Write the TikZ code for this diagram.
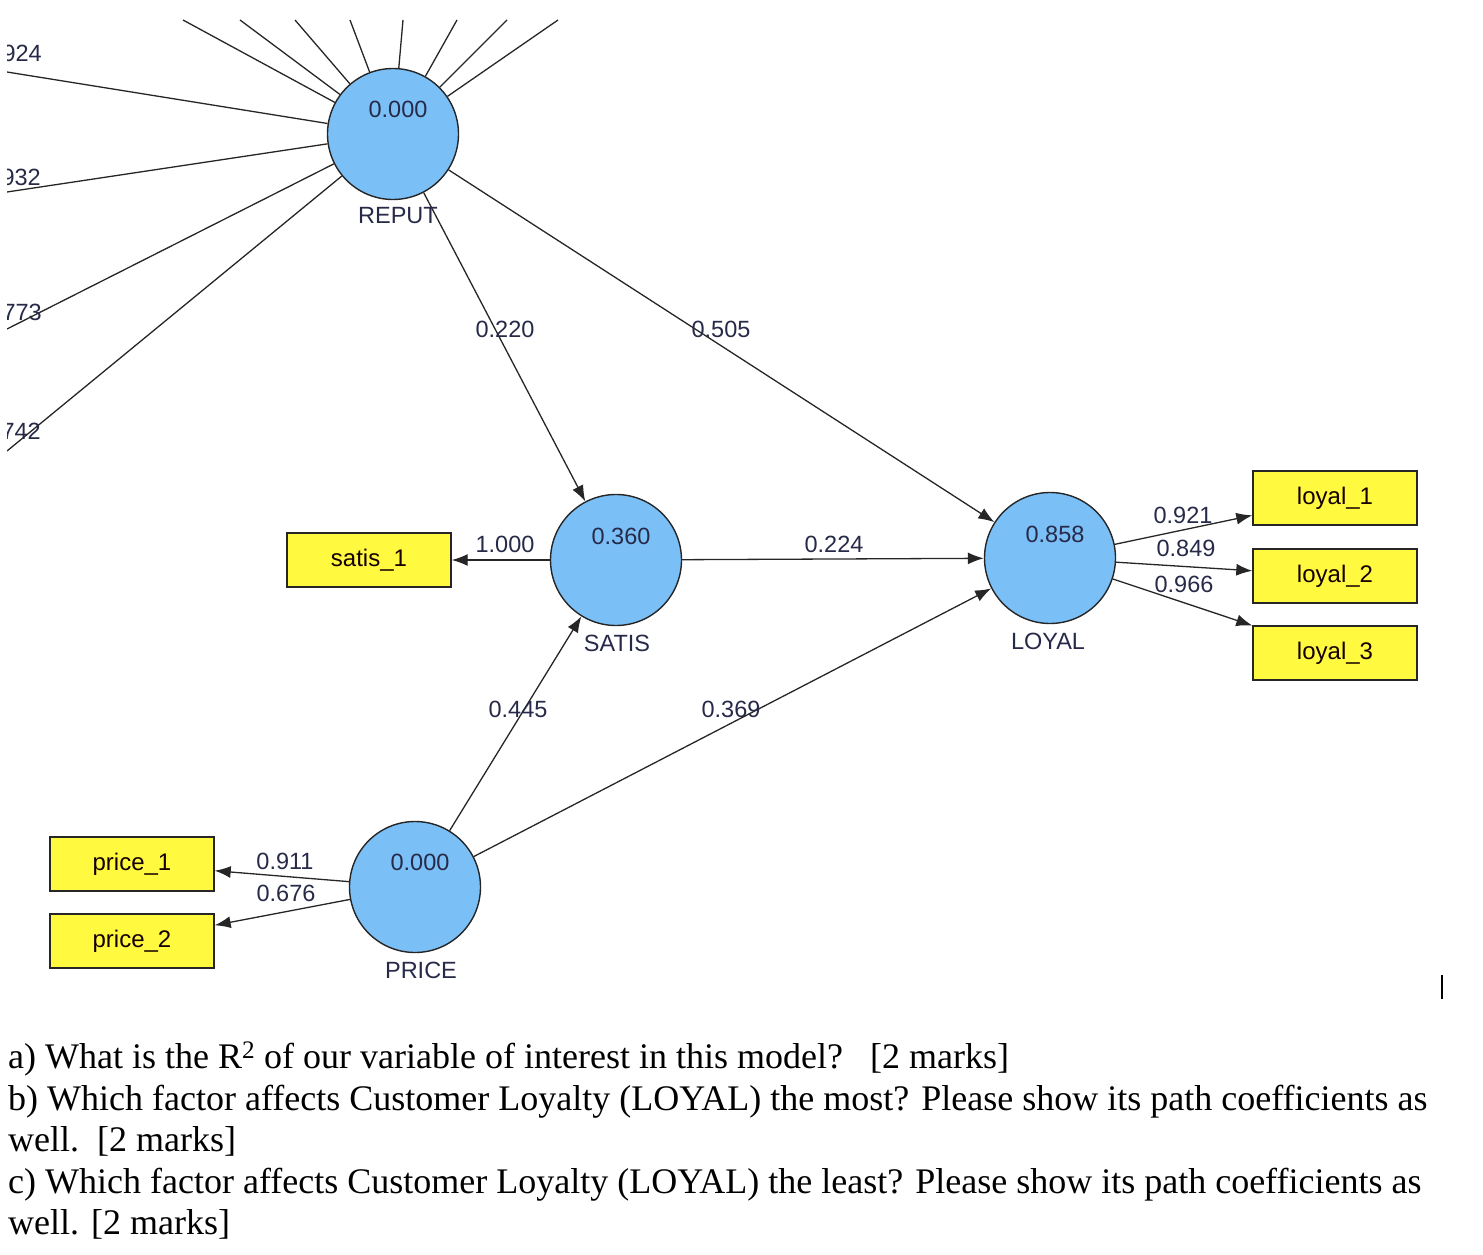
\documentclass[tikz,border=0pt]{standalone}
\usepackage{fontspec}
\setmainfont{Liberation Serif}
\newfontfamily\diagfont{Liberation Sans}
\usetikzlibrary{arrows.meta}
\definecolor{lvfill}{HTML}{7BBFF7}
\definecolor{mvfill}{HTML}{FFF940}
\definecolor{lbltext}{HTML}{262A48}
\tikzset{
  latent/.style={circle, draw=black!85, line width=1.4pt, fill=lvfill, minimum size=131pt, inner sep=0pt},
  manifest/.style={rectangle, draw=black!85, line width=1.4pt, fill=mvfill, minimum width=164pt, minimum height=54pt, inner sep=0pt, font=\diagfont\fontsize{24}{28}\selectfont, text=black!80!red!40!black},
  lbl/.style={font=\diagfont\fontsize{23.5}{28}\selectfont, text=lbltext, inner sep=0pt},
  conn/.style={line width=1.3pt, draw=black!85},
  arr/.style={conn, -{Latex[length=16pt,width=12pt]}},
  qline/.style={anchor=base west, inner sep=0pt, font=\fontsize{36}{42}\selectfont}
}
\begin{document}
\begin{tikzpicture}[x=1pt,y=-1pt]
\useasboundingbox (0,0) rectangle (1483,1255);
\begin{scope}
\clip (7,20) rectangle (1483,1010);
% latent variables
\node[latent] (REPUT) at (393,134) {};
\node[latent] (SATIS) at (616,560) {};
\node[latent] (LOYAL) at (1050,558) {};
\node[latent] (PRICE) at (415,887) {};
% manifest variables
\node[manifest] (satis1) at (369,560) {satis\_1};
\node[manifest] (loyal1) at (1335,498) {loyal\_1};
\node[manifest] (loyal2) at (1335,576) {loyal\_2};
\node[manifest] (loyal3) at (1335,653) {loyal\_3};
\node[manifest] (price1) at (132,864) {price\_1};
\node[manifest] (price2) at (132,941) {price\_2};
% indicator lines of REPUT leaving the view
\coordinate (t1) at (183,20);
\coordinate (t2) at (240,20);
\coordinate (t3) at (295,20);
\coordinate (t4) at (350,20);
\coordinate (t5) at (403,20);
\coordinate (t6) at (457,20);
\coordinate (t7) at (507,20);
\coordinate (t8) at (558,20);
\coordinate (s1) at (7,72);
\coordinate (s2) at (7,192);
\coordinate (s3) at (7,329);
\coordinate (s4) at (7,451);
\foreach \c in {t1,t2,t3,t4,t5,t6,t7,t8,s1,s2,s3,s4} \draw[conn] (REPUT) -- (\c);
\node[lbl, anchor=east] (w1) at (42,53) {0.924};
\node[lbl, anchor=east] (w2) at (41,177) {0.932};
\node[lbl, anchor=east] (w3) at (42,312) {0.773};
\node[lbl, anchor=east] (w4) at (41,431) {0.742};
% structural paths
\draw[arr] (REPUT) -- (SATIS);
\draw[arr] (REPUT) -- (LOYAL);
\draw[arr] (SATIS) -- (LOYAL);
\draw[arr] (PRICE) -- (SATIS);
\draw[arr] (PRICE) -- (LOYAL);
% outer model
\draw[arr] (SATIS) -- (satis1);
\draw[arr] (LOYAL) -- (loyal1);
\draw[arr] (LOYAL) -- (loyal2);
\draw[arr] (LOYAL) -- (loyal3);
\draw[arr] (PRICE) -- (price1);
\draw[arr] (PRICE) -- (price2);
% values inside latent variables
\node[lbl] (vREPUT) at (398,109) {0.000};
\node[lbl] (vSATIS) at (621,536) {0.360};
\node[lbl] (vLOYAL) at (1055,534) {0.858};
\node[lbl] (vPRICE) at (420,862) {0.000};
% names of latent variables
\node[lbl] (nREPUT) at (398,216) {REPUT};
\node[lbl] (nSATIS) at (617,643) {SATIS};
\node[lbl] (nLOYAL) at (1048,641) {LOYAL};
\node[lbl] (nPRICE) at (421,970) {PRICE};
% path coefficients
\node[lbl] (c1) at (505,329) {0.220};
\node[lbl] (c2) at (721,329) {0.505};
\node[lbl] (c3) at (834,544) {0.224};
\node[lbl] (c4) at (505,544) {1.000};
\node[lbl] (c5) at (518,709) {0.445};
\node[lbl] (c6) at (731,709) {0.369};
\node[lbl] (c7) at (285,861) {0.911};
\node[lbl] (c8) at (286,893) {0.676};
\node[lbl] (c9) at (1183,515) {0.921};
\node[lbl] (c10) at (1186,548) {0.849};
\node[lbl] (c11) at (1184,584) {0.966};
\end{scope}
% text cursor
\draw[line width=2pt] (1442,975) -- (1442,999);
% questions
\node[qline] (q1) at (8,1068) {a) What is the R\textsuperscript{2} of our variable of interest in this model?\ \ \ [2 marks]};
\node[qline] (q2) at (8,1110) {b) Which factor affects Customer Loyalty (LOYAL) the most? Please show its path coefficients as};
\node[qline] (q3) at (8,1151) {well.\ \ [2 marks]};
\node[qline] (q4) at (8,1193) {c) Which factor affects Customer Loyalty (LOYAL) the least? Please show its path coefficients as};
\node[qline] (q5) at (8,1234) {well. [2 marks]};
\end{tikzpicture}
\end{document}
